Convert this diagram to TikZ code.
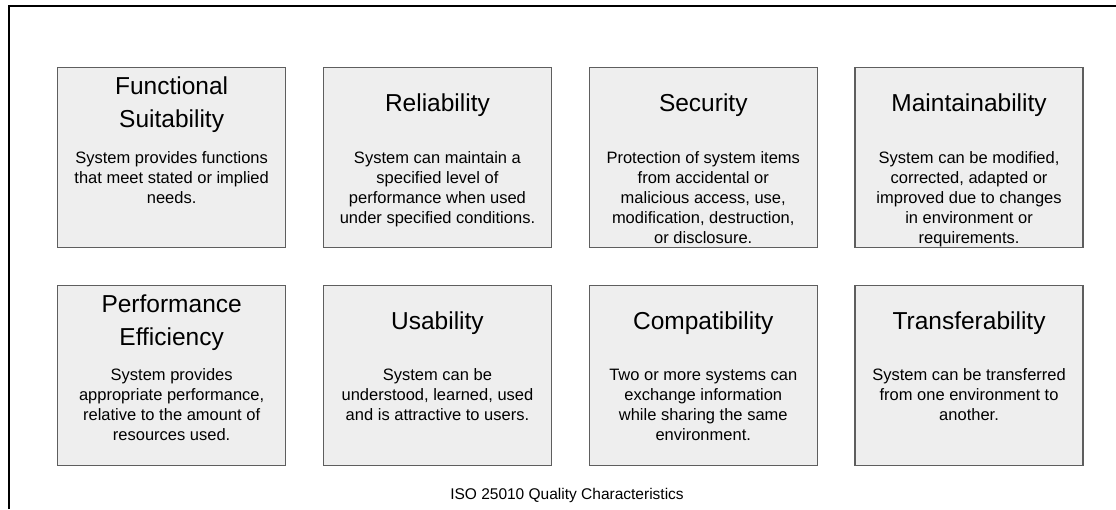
\documentclass[tikz,border=0pt]{standalone}
\usepackage{fontspec}
\setmainfont{Liberation Sans}
\usepackage{xcolor}
\usetikzlibrary{positioning}
\definecolor{cardfill}{HTML}{EEEEEE}
\definecolor{cardline}{HTML}{5E5E5E}
\newcommand\qcard[4]{
  \node[qbox, #2] (#1) {};
  \node[qtitle] (#1-title) at ([yshift=-38pt]#1.north) {#3};
  \node[qtext, anchor=north] (#1-text) at ([yshift=-84pt]#1.north) {#4};
}

\begin{document}
\begin{tikzpicture}[x=1pt, y=-1pt, node distance=36.5pt,
    qbox/.style={draw=cardline, fill=cardfill, line width=1.3pt, minimum width=228pt, minimum height=180pt, inner sep=0pt},
    qtitle/.style={align=center, inner sep=0pt, font=\fontsize{24.5}{33}\selectfont},
    qtext/.style={align=center, inner sep=0pt, font=\fontsize{16.5}{20}\selectfont}]
    \useasboundingbox (0,0) rectangle (1116,509);
    % frame
    \draw[line width=1.5pt] (9,509) -- (9,6) -- (1116,6);
    % top row
    \qcard{func}{anchor=north west, at={(57,67)}}{Functional\\Suitability}{System provides functions\\that meet stated or implied\\needs.}
    \qcard{rel}{right=of func}{Reliability}{System can maintain a\\specified level of\\performance when used\\under specified conditions.}
    \qcard{sec}{right=of rel}{Security}{Protection of system items\\from accidental or\\malicious access, use,\\modification, destruction,\\or disclosure.}
    \qcard{maint}{right=of sec}{Maintainability}{System can be modified,\\corrected, adapted or\\improved due to changes\\in environment or\\requirements.}
    % bottom row
    \qcard{perf}{below=of func}{Performance\\Efficiency}{System provides\\appropriate performance,\\relative to the amount of\\resources used.}
    \qcard{usab}{right=of perf}{Usability}{System can be\\understood, learned, used\\and is attractive to users.}
    \qcard{compat}{right=of usab}{Compatibility}{Two or more systems can\\exchange information\\while sharing the same\\environment.}
    \qcard{transf}{right=of compat}{Transferability}{System can be transferred\\from one environment to\\another.}
    \node[font=\fontsize{15.5}{18}\selectfont] (caption) at (567,495) {ISO 25010 Quality Characteristics};
\end{tikzpicture}
\end{document}
